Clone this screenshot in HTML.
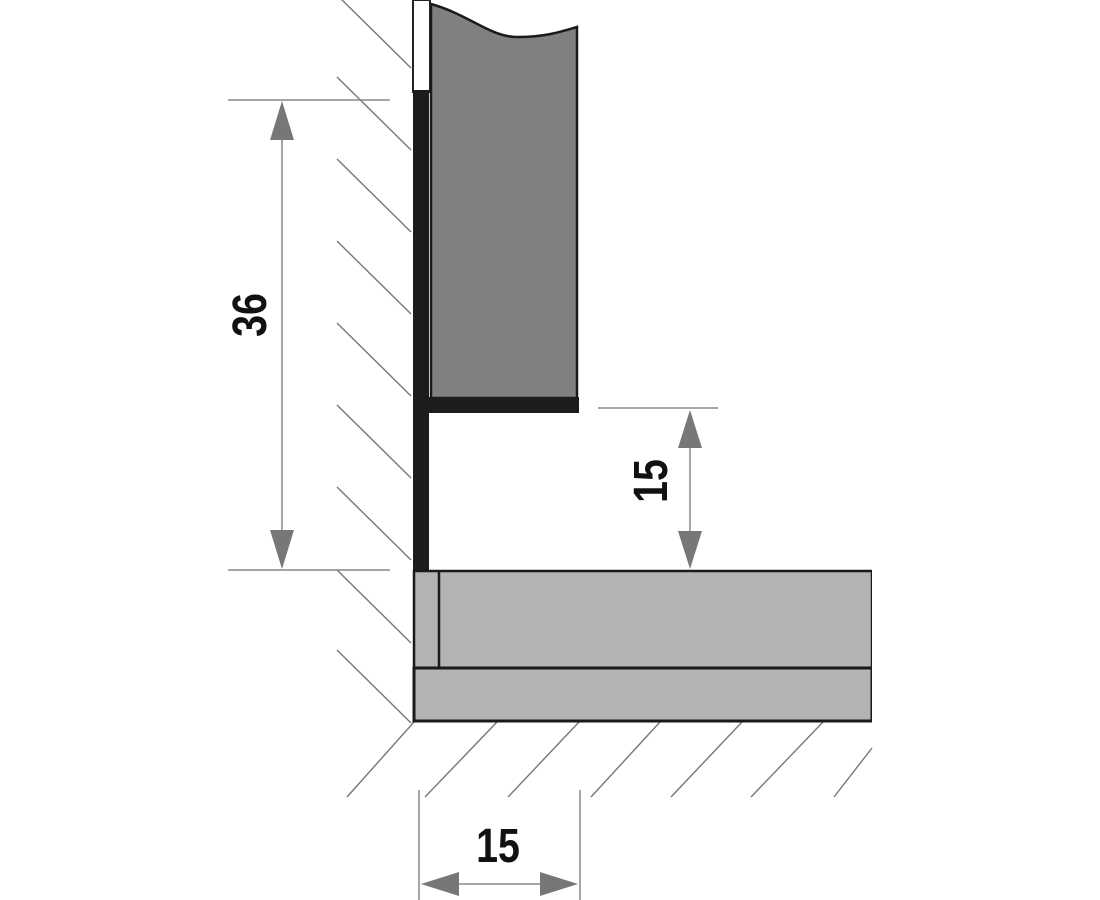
<!DOCTYPE html>
<html><head><style>html,body{margin:0;padding:0;background:#fff;}svg{display:block}</style></head>
<body>
<svg width="1100" height="900" viewBox="0 0 1100 900" xmlns="http://www.w3.org/2000/svg">
<g stroke="#777" stroke-width="1.4" fill="none">
  <line x1="337" y1="-5" x2="411" y2="68"/>
  <line x1="337" y1="77" x2="411" y2="150"/>
  <line x1="337" y1="159" x2="411" y2="232"/>
  <line x1="337" y1="241" x2="411" y2="314"/>
  <line x1="337" y1="323" x2="411" y2="396"/>
  <line x1="337" y1="405" x2="411" y2="478"/>
  <line x1="337" y1="487" x2="411" y2="560"/>
  <line x1="337" y1="570" x2="411" y2="643"/>
  <line x1="337" y1="650" x2="411" y2="723"/>
  <line x1="414" y1="722" x2="347" y2="797"/>
  <line x1="497" y1="722" x2="425" y2="797"/>
  <line x1="579" y1="722" x2="508" y2="797"/>
  <line x1="660" y1="722" x2="591" y2="797"/>
  <line x1="742" y1="722" x2="671" y2="797"/>
  <line x1="823" y1="722" x2="751" y2="797"/>
  <line x1="872" y1="748" x2="834" y2="797"/>
</g>
<g stroke="#888" stroke-width="1.5">
  <line x1="228" y1="100" x2="390" y2="100"/>
  <line x1="228" y1="570" x2="390" y2="570"/>
  <line x1="282" y1="130" x2="282" y2="540"/>
  <line x1="598" y1="408" x2="718" y2="408"/>
  <line x1="690" y1="440" x2="690" y2="540"/>
  <line x1="419" y1="790" x2="419" y2="900"/>
  <line x1="580" y1="790" x2="580" y2="900"/>
  <line x1="450" y1="884" x2="550" y2="884"/>
</g>
<g fill="#777">
  <polygon points="282,101 270,140 294,140"/>
  <polygon points="282,569 270,530 294,530"/>
  <polygon points="690,410 678,448 702,448"/>
  <polygon points="690,569 678,531 702,531"/>
  <polygon points="421,884 459,872 459,896"/>
  <polygon points="578,884 540,872 540,896"/>
</g>
<g font-family="Liberation Sans, sans-serif" font-size="48" font-weight="bold" fill="#111" text-anchor="middle">
  <text transform="translate(266,315) rotate(-90) scale(0.82,1)">36</text>
  <text transform="translate(667,481) rotate(-90) scale(0.82,1)">15</text>
  <text transform="translate(498,862) scale(0.82,1)">15</text>
</g>
<rect x="413" y="0" width="17" height="92" fill="#fff" stroke="#222" stroke-width="2"/>
<path d="M431,4 C470,15 490,37 517,37 C545,37 560,32 577,27 L577,398 L431,398 Z" fill="#808080" stroke="#1a1a1a" stroke-width="2.5"/>
<rect x="413" y="90" width="16" height="482" fill="#1c1c1c"/>
<rect x="413" y="397" width="166" height="16" fill="#1c1c1c"/>
<rect x="414" y="571" width="458" height="97" fill="#b3b3b3" stroke="#1a1a1a" stroke-width="2.5"/>
<rect x="414" y="668" width="458" height="53" fill="#b3b3b3" stroke="#1a1a1a" stroke-width="3"/>
<line x1="439" y1="571" x2="439" y2="668" stroke="#1a1a1a" stroke-width="2.5"/>
<rect x="872" y="560" width="30" height="170" fill="#fff"/>
</svg>
</body></html>
